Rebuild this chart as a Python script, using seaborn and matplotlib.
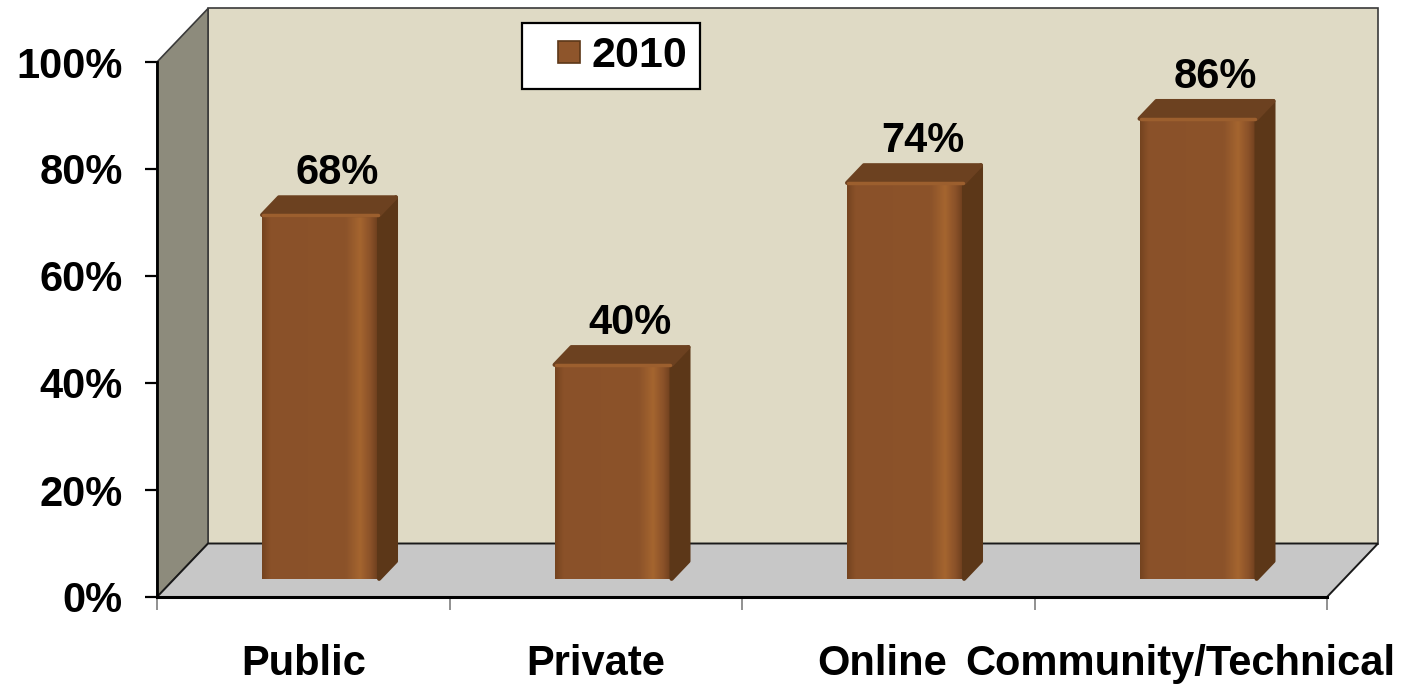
import numpy as np
import pandas as pd
import matplotlib
matplotlib.use("Agg")
import matplotlib.pyplot as plt
import seaborn as sns
from matplotlib.patches import Polygon, Rectangle
from matplotlib.colors import LinearSegmentedColormap
from matplotlib.container import BarContainer
from matplotlib.legend_handler import HandlerPatch, update_from_first_child
from matplotlib.transforms import ScaledTranslation

# ---- data -------------------------------------------------------------
categories = ["Public", "Private", "Online", "Community/Technical"]
values_2010 = [68, 40, 74, 86]
series_name = "2010"
y_ticks = [0, 20, 40, 60, 80, 100]
y_tick_labels = ["0%", "20%", "40%", "60%", "80%", "100%"]

# ---- style ------------------------------------------------------------
sns.set_theme(style="white")
plt.rcParams["font.family"] = ["Liberation Sans", "DejaVu Sans"]
plt.rcParams["font.weight"] = "bold"
plt.rcParams["text.color"] = "black"
plt.rcParams["xtick.labelcolor"] = "black"
plt.rcParams["ytick.labelcolor"] = "black"

FRONT = "#8B5229"
SIDE = "#5C3718"
TOP = "#6C4120"
TOP_EDGE = "#9C5F2E"
BACK_WALL = "#DFDAC5"
LEFT_WALL = "#8D8B7C"
FLOOR = "#C7C7C7"

W, H, DPI = 1403, 687, 100
fig = plt.figure(figsize=(W / DPI, H / DPI), dpi=DPI, facecolor="white")
ax = fig.add_axes([157 / W, 1 - 597 / H, 1170 / W, 535 / H])
ax.patch.set_alpha(0)

# depth of the 3D box (data units), bar placement inside that depth
DX, DY = 0.1744, 10.0
BAR_FRONT = 0.34      # fraction of depth where bar front faces sit
BAR_DEPTH = 0.33      # fraction of depth taken by each bar
bdx, bdy = BAR_DEPTH * DX, BAR_DEPTH * DY

# ---- walls and floor --------------------------------------------------
x_lo, x_hi = -0.5, len(categories) - 0.5
back = Polygon([(x_lo + DX, DY), (x_hi + DX, DY), (x_hi + DX, 100 + DY), (x_lo + DX, 100 + DY)],
               closed=True, facecolor=BACK_WALL, edgecolor="#3a3a3a", lw=1.2,
               clip_on=False, zorder=0.5)
left = Polygon([(x_lo, 0), (x_lo, 100), (x_lo + DX, 100 + DY), (x_lo + DX, DY)],
               closed=True, facecolor=LEFT_WALL, edgecolor="#3a3a3a", lw=1.2,
               clip_on=False, zorder=0.6)
floor = Polygon([(x_lo, 0), (x_hi, 0), (x_hi + DX, DY), (x_lo + DX, DY)],
                closed=True, facecolor=FLOOR, edgecolor="#1a1a1a", lw=1.4,
                clip_on=False, zorder=0.7)
for p in (back, left, floor):
    ax.add_patch(p)

# ---- bars -------------------------------------------------------------
df = pd.DataFrame({"category": categories, "value": values_2010})
sns.barplot(data=df, x="category", y="value", color=FRONT, saturation=1,
            width=0.4, label=series_name, edgecolor="none", ax=ax, zorder=2)

front_cmap = LinearSegmentedColormap.from_list(
    "front", [(0.0, "#74431F"), (0.07, "#8A5129"), (0.72, "#8C532A"),
              (0.84, "#A5652F"), (0.93, "#8A5129"), (1.0, "#6A3C1C")])
grad = np.linspace(0, 1, 256).reshape(1, -1)

bars = list(ax.containers[0])
for bar in bars:
    bar.set_x(bar.get_x() + BAR_FRONT * DX)
    bar.set_y(BAR_FRONT * DY)
    x0, y0 = bar.get_x(), bar.get_y()
    x1, y1 = x0 + bar.get_width(), y0 + bar.get_height()
    img = ax.imshow(grad, cmap=front_cmap, extent=(x0, x1, y0, y1),
                    aspect="auto", zorder=2.05, interpolation="bilinear")
    img.set_clip_path(bar)
    side = Polygon([(x1, y0), (x1 + bdx, y0 + bdy), (x1 + bdx, y1 + bdy), (x1, y1)],
                   closed=True, facecolor=SIDE, edgecolor=SIDE, lw=3,
                   joinstyle="round", zorder=2.1)
    top = Polygon([(x0, y1), (x1, y1), (x1 + bdx, y1 + bdy), (x0 + bdx, y1 + bdy)],
                  closed=True, facecolor=TOP, edgecolor=TOP, lw=3,
                  joinstyle="round", zorder=2.1)
    ax.add_patch(side)
    ax.add_patch(top)
    ax.plot([x0 + 0.004, x1 - 0.004], [y1, y1], color=TOP_EDGE, lw=2.5,
            solid_capstyle="round", zorder=2.2)

# value labels
for bar, val in zip(bars, values_2010):
    cx = bar.get_x() + bar.get_width() / 2 + 0.058
    ax.text(cx, val + 9.2, f"{val}%", ha="center", va="baseline",
            fontsize=30, fontweight="bold", color="black", zorder=5)

# ---- axes ---------------------------------------------------------------
ax.set_xlim(x_lo, x_hi)
ax.set_ylim(0, 100)
ax.set_xlabel("")
ax.set_ylabel("")

ax.set_yticks(y_ticks)
ax.set_yticklabels(y_tick_labels)
ax.tick_params(axis="y", which="major", direction="out", length=8.6, width=1.6,
               color="black", labelcolor="black", pad=16, labelsize=30, left=True)

ax.set_xticks(np.arange(x_lo, x_hi + 0.01, 1.0))
ax.set_xticklabels([])
ax.set_xticks(np.arange(len(categories)), minor=True)
ax.set_xticklabels(categories, minor=True)
ax.tick_params(axis="x", which="major", direction="out", length=9.4, width=1.3,
               color="#888888", bottom=True)
ax.tick_params(axis="x", which="minor", length=0, pad=34, labelsize=30,
               labelcolor="black")

shifts_px = [0, 0, -6, 0]
for lab, s in zip(ax.get_xticklabels(minor=True), shifts_px):
    lab.set_transform(lab.get_transform() + ScaledTranslation(s / DPI, 0, fig.dpi_scale_trans))

for name in ("top", "right"):
    ax.spines[name].set_visible(False)
ax.spines["left"].set_bounds(0, 100)
ax.spines["left"].set_color("black")
ax.spines["left"].set_linewidth(2)
ax.spines["bottom"].set_color("black")
ax.spines["bottom"].set_linewidth(2.2)
ax.grid(False)

# ---- legend -------------------------------------------------------------
def square_patch(legend, orig_handle, xdescent, ydescent, width, height, fontsize):
    s = 0.52 * fontsize
    return Rectangle((-xdescent + width - s, -ydescent + (height - s) / 2), s, s)

leg = ax.legend(loc="upper left", bbox_to_anchor=(522 / W, 1 - 23 / H),
                bbox_transform=fig.transFigure, borderaxespad=0,
                frameon=True, fancybox=False, framealpha=1, edgecolor="black",
                fontsize=31, handlelength=1.05, handleheight=0.7,
                handletextpad=0.26, borderpad=0.3,
                handler_map={BarContainer: HandlerPatch(
                    patch_func=square_patch, update_func=update_from_first_child)})
leg.get_frame().set_linewidth(1.6)
leg.get_frame().set_facecolor("white")
for h in leg.legend_handles:
    h.set_facecolor("#8E552B")
    h.set_edgecolor("#5C3718")
    h.set_linewidth(1.2)
for t in leg.get_texts():
    t.set_color("black")
leg.set_zorder(6)

fig.savefig("out.png", dpi=DPI, facecolor="white")
